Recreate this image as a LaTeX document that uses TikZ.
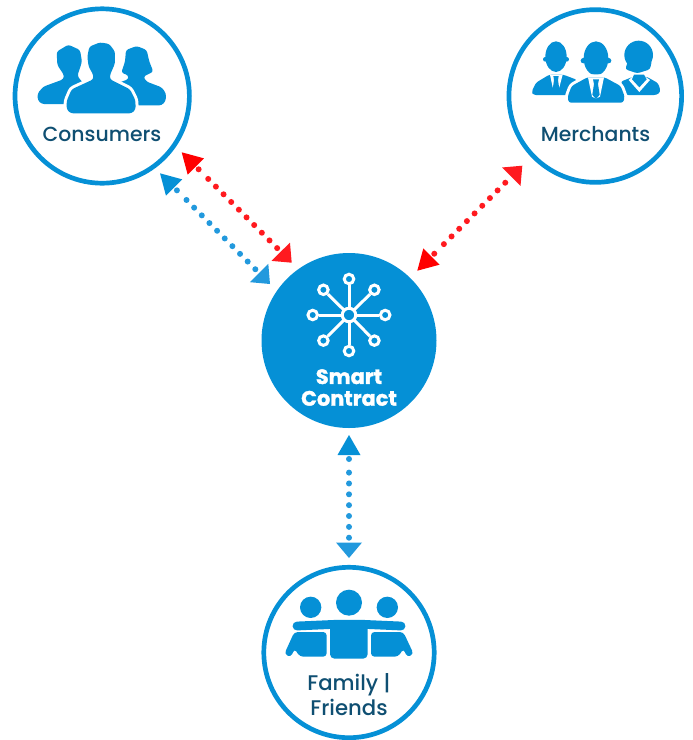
\documentclass[tikz,border=0pt]{standalone}
\usepackage{fontspec}
\usetikzlibrary{arrows.meta}
\setmainfont{Poppins}
\newfontfamily\labelfont{Poppins Medium}
\newfontfamily\heavyfont[FakeBold=1.6]{Poppins Bold}
\definecolor{brandblue}{HTML}{0590D6}
\definecolor{linkblue}{HTML}{2299DD}
\definecolor{linkred}{HTML}{FF1A1F}
\definecolor{labelink}{HTML}{0F4F72}
\tikzset{
  x=1pt,y=-1pt,
  ring/.style={circle,draw=brandblue,line width=4.7pt,fill=white,minimum size=#1,inner sep=0pt},
  core/.style={circle,fill=brandblue,minimum size=175pt,inner sep=0pt},
  caption/.style={text=labelink,font=\labelfont\fontsize{20.4}{25}\selectfont,align=center,inner sep=0pt},
  bigcaption/.style={text=labelink,font=\labelfont\fontsize{21.2}{25}\selectfont,align=center,inner sep=0pt},
  corecaption/.style={text=white,font=\heavyfont\fontsize{20.8}{21.7}\selectfont,align=center,inner sep=0pt},
  dotlink/.style={line cap=round,line width=6pt,
    dash pattern=on 0pt off 5pt on 0pt off 13.6pt on 0pt off 10.85pt on 0pt off 10.85pt on 0pt off 10.85pt on 0pt off 10.85pt on 0pt off 10.85pt on 0pt off 10.85pt on 0pt off 10.85pt on 0pt off 10.85pt on 0pt off 10.85pt on 0pt off 10.85pt on 0pt off 400pt,
    dash phase=1pt},
  redlink/.style={dotlink,draw=linkred,{Triangle[length=20pt,width=23pt,fill=red,line width=0pt]}-{Triangle[length=15.5pt,width=26pt,fill=linkred,line width=0pt]}},
  bluelink/.style={dotlink,draw=linkblue,{Triangle[length=20pt,width=23pt,fill=brandblue,line width=0pt]}-{Triangle[length=15.5pt,width=26pt,fill=linkblue,line width=0pt]}},
  iconfill/.style={fill=brandblue,draw=none,rounded corners=2.5pt},
  iconcut/.style={iconfill,preaction={draw=white,line width=6pt,fill=white}},
  whitemark/.style={fill=white,draw=none},
  neckmark/.style={fill=brandblue,draw=none},
  netline/.style={draw=white,line width=3pt},
  netsat/.style={circle,draw=white,fill=brandblue,line width=3pt,minimum size=9.5pt,inner sep=0pt},
  nethub/.style={circle,draw=white,fill=brandblue,line width=3pt,minimum size=13.5pt,inner sep=0pt},
  armline/.style={draw=brandblue,line width=8.8pt,line cap=round,line join=round},
}
\begin{document}
\begin{tikzpicture}
\useasboundingbox (0,0) rectangle (693,740);
% circles
\node[ring=174.4pt] (consumers) at (102.2,96) {};
\node[ring=172.7pt] (merchants) at (595.3,96) {};
\node[ring=170.4pt] (family) at (349,652.5) {};
\node[core] (smart) at (349,340.5) {};
% captions
\node[caption] (consumerstext) at (102,134) {Consumers};
\node[caption] (merchantstext) at (595.5,134) {Merchants};
\node[bigcaption] (familytext) at (349,695) {Family |\\Friends};
\node[corecaption] (smarttext) at (349,387.5) {Smart\\Contract};
% connector ends
\coordinate (redA) at (181.7,152.3);
\coordinate (redB) at (291.7,262.7);
\coordinate (blueA) at (160,173.3);
\coordinate (blueB) at (270,284);
\coordinate (redC) at (522.3,165.7);
\coordinate (redD) at (417.3,270.7);
\coordinate (blueC) at (349,435);
\coordinate (blueD) at (349,558);
\draw[redlink] (redA) -- (redB);
\draw[bluelink] (blueA) -- (blueB);
\draw[redlink] (redD) -- (redC);
\draw[bluelink] (blueC) -- (blueD);
% network icon
\coordinate (hub) at (349,315);
\foreach \n/\p in {a/{349,279},b/{349,351},c/{312.7,315},d/{385.2,315},e/{323.4,289.8},f/{374.4,289.8},g/{323.4,340.6},h/{374.4,340.6}}{
  \node[netsat] (sat\n) at (\p) {};
  \draw[netline] (hub) -- (sat\n);
}
\node[nethub] (hubnode) at (hub) {};
% consumers icon (coordinates of a 3x crop at the origin)
\begin{scope}[scale=1/3]
\path[iconfill] (205,134) -- (240,150) -- (246,185) -- (232,228) -- (250,250) -- (230,312) -- (125,312) -- (113,300) -- (113,280) -- (130,260) -- (190,238) -- (192,225) -- (172,195) -- (170,155) -- cycle;
\path[iconfill] (410,138) -- (440,150) -- (448,185) -- (460,215) -- (430,230) -- (440,245) -- (485,262) -- (498,280) -- (497,303) -- (485,316) -- (380,316) -- (350,250) -- (385,238) -- (385,226) -- (364,218) -- (375,185) -- (378,150) -- cycle;
\path[iconcut] (300,127) -- (328,132) -- (345,155) -- (345,190) -- (330,225) -- (330,238) -- (390,268) -- (406,300) -- (407,328) -- (395,340) -- (212,340) -- (200,328) -- (200,303) -- (215,268) -- (280,238) -- (280,225) -- (266,200) -- (262,170) -- (268,140) -- cycle;
\end{scope}
% merchants icon
\begin{scope}[shift={(500,0)},scale=1/3]
\path[fill=brandblue] (168,170) ellipse (32 and 46);
\path[fill=brandblue] (136,178) circle (7) (200,178) circle (7);
\path[iconfill] (148,224) -- (108,248) -- (95,275) -- (100,285) -- (215,285) -- (232,240) -- (190,224) -- cycle;
\path[whitemark] (150,224) -- (188,224) -- (178,262) -- (168,270) -- (158,262) -- cycle;
\path[neckmark] (160,228) -- (176,228) -- (174,240) -- (178,268) -- (168,280) -- (158,268) -- (162,240) -- cycle;
\path[fill=brandblue] (416,165) circle (43);
\path[iconfill] (385,180) -- (376,208) -- (412,220) -- (450,208) -- (456,180) -- cycle;
\path[iconfill] (400,230) -- (362,245) -- (378,285) -- (470,285) -- (482,275) -- (475,250) -- (440,230) -- cycle;
\path[whitemark] (386,240) -- (402,226) -- (430,226) -- (450,240) -- (418,276) -- cycle;
\path[neckmark] (402,224) -- (432,224) -- (440,238) -- (418,262) -- (396,238) -- cycle;
\path[fill=brandblue] (288,175) ellipse (37 and 51);
\path[fill=brandblue] (250,182) circle (8) (326,182) circle (8);
\path[iconcut] (262,232) -- (215,258) -- (203,290) -- (206,308) -- (370,308) -- (374,290) -- (362,258) -- (314,232) -- cycle;
\path[whitemark] (264,232) -- (312,232) -- (300,290) -- (288,296) -- (276,290) -- cycle;
\path[neckmark] (279,238) -- (297,238) -- (294,252) -- (299,284) -- (288,298) -- (277,284) -- (282,252) -- cycle;
\end{scope}
% family icon
\begin{scope}[shift={(255,560)},scale=1/3]
\path[fill=brandblue] (167,142) circle (32) (282,128) circle (39) (397,142) circle (32);
\path[fill=brandblue,rounded corners=4.5pt] (225,185) rectangle (338,296);
\draw[armline] (126,198) -- (240,193) -- (325,193) -- (438,198);
\path[iconfill,rounded corners=3.5pt] (118,216) -- (215,216) -- (215,290) -- (134,290) -- (119,266) -- (107,292) -- (88,282) -- cycle;
\path[iconfill,rounded corners=3.5pt] (348,216) -- (445,216) -- (476,282) -- (457,292) -- (445,266) -- (430,290) -- (348,290) -- cycle;
\end{scope}
\end{tikzpicture}
\end{document}
